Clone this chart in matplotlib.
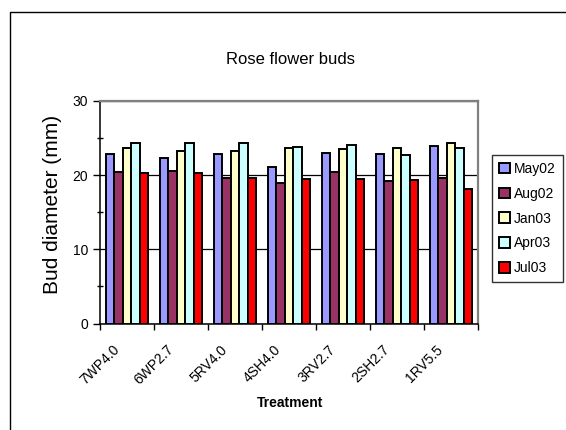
import numpy as np
import matplotlib.pyplot as plt
import matplotlib.transforms as mtransforms
from matplotlib.patches import Patch
from matplotlib.lines import Line2D
from matplotlib.ticker import MultipleLocator, FixedLocator, NullFormatter

plt.rcParams['font.family'] = ['Liberation Sans', 'DejaVu Sans']

treatments = ['7WP4.0', '6WP2.7', '5RV4.0', '4SH4.0', '3RV2.7', '2SH2.7', '1RV5.5']
series = ['May02', 'Aug02', 'Jan03', 'Apr03', 'Jul03']
may02 = [22.9, 22.3, 22.9, 21.1, 23.0, 22.9, 24.0]
aug02 = [20.4, 20.6, 19.6, 19.0, 20.4, 19.2, 19.6]
jan03 = [23.7, 23.2, 23.3, 23.7, 23.5, 23.6, 24.4]
apr03 = [24.4, 24.4, 24.3, 23.8, 24.1, 22.7, 23.7]
jul03 = [20.3, 20.3, 19.6, 19.5, 19.5, 19.3, 18.1]
colors = ['#9999FF', '#993366', '#FFFFCC', '#CCFFFF', '#FF0000']

W, H = 566, 430
fig = plt.figure(figsize=(W / 100, H / 100), dpi=100)
ax = fig.add_axes([100 / W, (H - 323.5) / H, 378 / W, 222.5 / H])

x = np.arange(len(treatments))
bw = 0.156
for j, (vals, c) in enumerate(zip([may02, aug02, jan03, apr03, jul03], colors)):
    ax.bar(x + (j - 2) * bw, vals, bw, color=c, edgecolor='black', linewidth=1.4, zorder=3)

ax.set_xlim(-0.5, len(treatments) - 0.5)
ax.set_ylim(0, 30)
ax.yaxis.set_major_locator(MultipleLocator(10))
ax.yaxis.set_minor_locator(MultipleLocator(5))
ax.grid(axis='y', which='major', color='black', linewidth=0.9, zorder=1)

# category labels, rotated, hung below the axis
ax.set_xticks(x)
ax.xaxis.set_major_formatter(NullFormatter())
lbl_tr = ax.get_xaxis_transform() + mtransforms.ScaledTranslation(-15 / 100, -19 / 100, fig.dpi_scale_trans)
for xi, name in zip(x, treatments):
    ax.text(xi, 0, name, transform=lbl_tr, rotation=45, ha='right', va='top',
            rotation_mode='anchor', fontsize=10, clip_on=False)

ax.xaxis.set_minor_locator(FixedLocator(np.arange(-0.5, len(treatments), 1)))
ax.tick_params(axis='x', which='major', length=0)
ax.tick_params(axis='x', which='minor', length=4, width=1, direction='out')
ax.tick_params(axis='y', which='major', length=5, width=1, direction='out', labelsize=10)
ax.tick_params(axis='y', which='minor', length=4, width=1, direction='inout')

for s in ['left', 'bottom']:
    ax.spines[s].set_color('black')
    ax.spines[s].set_linewidth(1.1)
for s in ['top', 'right']:
    ax.spines[s].set_color('#808080')
    ax.spines[s].set_linewidth(1.6)

fig.text(53 / W, 1 - 204 / H, 'Bud diameter (mm)', rotation=90, ha='center', va='center', fontsize=15)
fig.text(290 / W, 1 - 403 / H, 'Treatment', ha='center', va='center', fontsize=10, fontweight='bold')
fig.text(290 / W, 1 - 60 / H, 'Rose flower buds', ha='center', va='center', fontsize=12)

handles = [Patch(facecolor=c, edgecolor='black', linewidth=1.4) for c in colors]
leg = fig.legend(handles, series, loc='upper left', bbox_to_anchor=(492 / W, 1 - 155 / H),
                 fontsize=10, frameon=True, fancybox=False, handlelength=0.8, handleheight=0.8,
                 handletextpad=0.3, labelspacing=0.78, borderpad=0.5, borderaxespad=0)
leg.get_frame().set_edgecolor('black')
leg.get_frame().set_linewidth(1)

fig.add_artist(Line2D([10 / W, 10 / W, 1.0], [0.0, 1 - 12 / H, 1 - 12 / H],
                      transform=fig.transFigure, color='black', linewidth=1))

fig.savefig('out.png', dpi=100)
